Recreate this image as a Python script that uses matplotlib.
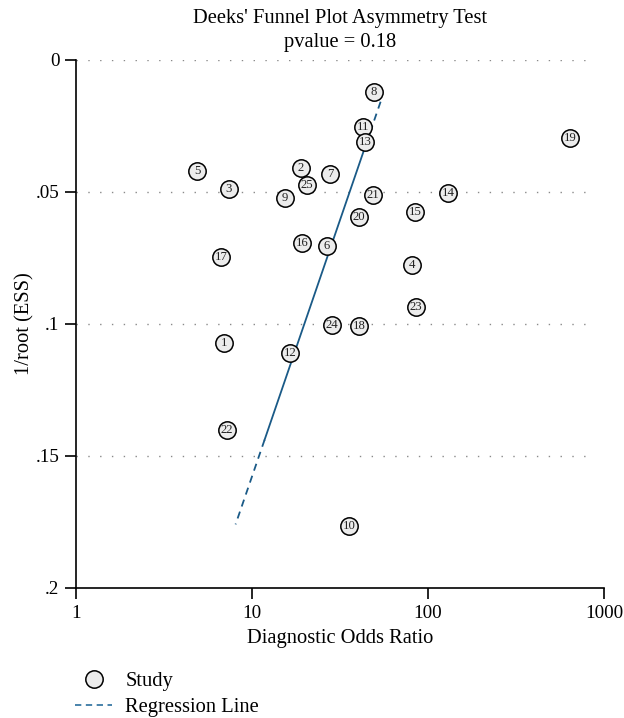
import numpy as np
import matplotlib
matplotlib.use("Agg")
import matplotlib.pyplot as plt
from matplotlib.lines import Line2D

plt.rcParams['font.family'] = ['Liberation Serif', 'DejaVu Serif']

# Study-level data: diagnostic odds ratio and 1/sqrt(effective sample size)
study_ids = [8, 11, 13, 19, 5, 2, 7, 25, 3, 9, 21, 14, 20, 15, 16, 6, 17, 4,
             23, 24, 18, 1, 12, 22, 10]
dor = [49.3, 42.7, 43.9, 641, 4.9, 19.0, 27.7, 20.5, 7.4, 15.4, 48.7, 130,
       40.5, 84.4, 19.2, 26.6, 6.7, 81.1, 85.5, 28.5, 40.5, 6.9, 16.4, 7.2, 35.7]
inv_root_ess = [0.0122, 0.0253, 0.0311, 0.0295, 0.0420, 0.0409, 0.0432,
                0.0473, 0.0488, 0.0522, 0.0510, 0.0505, 0.0595, 0.0577,
                0.0693, 0.0704, 0.0746, 0.0778, 0.0936, 0.1004, 0.1008,
                0.1073, 0.1111, 0.1403, 0.1765]

# Fitted regression of log10(DOR) on 1/root(ESS)
reg_intercept = 1.812
reg_slope = -5.147
reg_y_range = (0.0158, 0.1759)
reg_solid_range = (0.0253, 0.1439)

x_ticks = [1, 10, 100, 1000]
x_ticklabels = ["1", "10", "100", "1000"]
y_ticks = [0, 0.05, 0.1, 0.15, 0.2]
y_ticklabels = ["0", ".05", ".1", ".15", ".2"]

line_color = "#1a5a87"
text_size = 14.8
tick_size = 13.8

fig = plt.figure(figsize=(6.24, 7.18), dpi=100)
ax = fig.add_axes([76 / 624, 1 - 588 / 718, 528 / 624, 528 / 718])

ax.set_xscale("log")
ax.set_xlim(1, 1000)
ax.set_ylim(0.2, 0)

# dotted reference lines
for yv in y_ticks[:-1]:
    ax.plot([1, 880], [yv, yv], linestyle=(0, (1, 7.5)), color="#8a8a8a",
            linewidth=1.0, zorder=1)

def reg_x(y):
    return 10 ** (reg_intercept + reg_slope * np.asarray(y))

ys_low = np.linspace(reg_solid_range[1], reg_y_range[1], 20)
ys_mid = np.linspace(reg_solid_range[0], reg_solid_range[1], 50)
ys_top = np.linspace(reg_y_range[0], reg_solid_range[0], 10)
ax.plot(reg_x(ys_low), ys_low, color=line_color, lw=1.3, linestyle=(0, (4, 3)), zorder=2)
ax.plot(reg_x(ys_mid), ys_mid, color=line_color, lw=1.3, zorder=2)
ax.plot(reg_x(ys_top), ys_top, color=line_color, lw=1.3, linestyle=(0, (4, 3)), zorder=2)

ax.scatter(dor, inv_root_ess, s=12.5 ** 2, facecolor="#ececec", edgecolor="black",
           linewidth=1.1, zorder=3)
for sid, xv, yv in zip(study_ids, dor, inv_root_ess):
    ax.text(xv, yv, str(sid), ha="center", va="center", fontsize=9.2, zorder=4,
            color="#222222")

for side in ("top", "right"):
    ax.spines[side].set_visible(False)
for side in ("left", "bottom"):
    ax.spines[side].set_linewidth(1.2)

ax.set_xticks(x_ticks)
ax.set_xticklabels(x_ticklabels)
ax.xaxis.set_minor_locator(matplotlib.ticker.NullLocator())
ax.set_yticks(y_ticks)
ax.set_yticklabels(y_ticklabels)
ax.tick_params(axis="both", length=8, width=1.2, labelsize=tick_size, pad=4)

ax.set_xlabel("Diagnostic Odds Ratio", fontsize=text_size, labelpad=5)
ax.set_ylabel("1/root (ESS)", fontsize=text_size, labelpad=1)

fig.text(340 / 624, 1 - 19 / 718, "Deeks' Funnel Plot Asymmetry Test",
         ha="center", va="center", fontsize=text_size)
fig.text(340 / 624, 1 - 43 / 718, "pvalue = 0.18", ha="center", va="center",
         fontsize=text_size)

handles = [
    Line2D([], [], marker="o", linestyle="none", markersize=12.5,
           markerfacecolor="#ececec", markeredgecolor="black", markeredgewidth=1.1),
    Line2D([], [], color="#3a7aa5", lw=1.3, linestyle=(0, (3.5, 2.5))),
]
fig.legend(handles, ["Study", "Regression Line"], loc="upper left",
           bbox_to_anchor=(75 / 624, 1 - 672 / 718), frameon=False,
           fontsize=text_size, handlelength=1.8, handletextpad=0.65,
           labelspacing=0.3, borderaxespad=0, borderpad=0)

fig.savefig("out.png", dpi=100)
